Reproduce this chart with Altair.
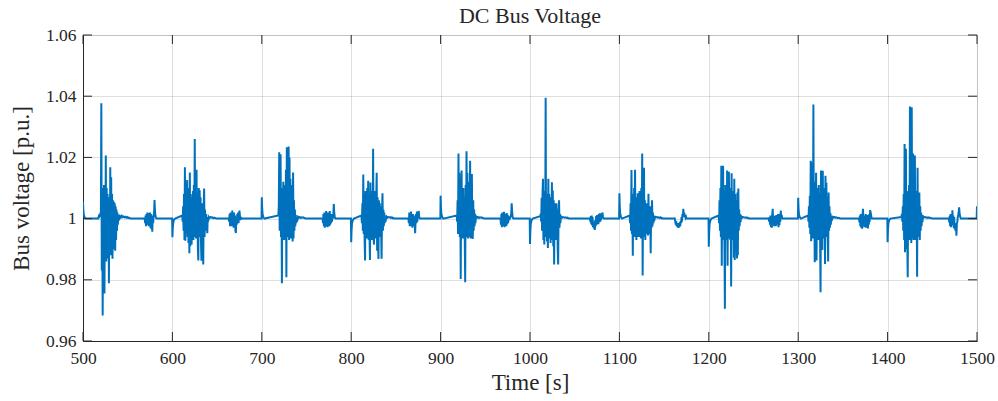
import altair as alt
import pandas as pd

# ---------------- values ----------------
chart_title = "DC Bus Voltage"
x_ticks = [500, 600, 700, 800, 900, 1000, 1100, 1200, 1300, 1400, 1500]
y_ticks = [0.96, 0.98, 1.0, 1.02, 1.04, 1.06]

# large oscillation bursts, sampled every 0.5 s from their start time
burst_starts = [517.0, 611.0, 718.5, 811.5, 918.0, 1011.5, 1111.5, 1211.0, 1311.0, 1415.5]

burst_1 = [1.0000, 1.0006, 1.0010, 1.0008, 1.0012, 1.0009,
           1.0010, 1.0377, 0.9830, 1.0100, 0.9683, 1.0050, 0.9850, 1.0110, 0.9755, 1.0080,
           0.9880, 1.0206, 0.9860, 1.0100, 0.9870, 1.0080, 0.9900, 1.0060, 0.9789, 1.0070,
           0.9880, 1.0168, 0.9900, 1.0135, 0.9880, 1.0080, 0.9869, 1.0060, 0.9900, 1.0055,
           0.9920, 1.0050, 0.9895, 1.0040, 0.9930, 1.0030, 0.9960, 1.0020, 0.9980, 1.0012,
           0.9995, 1.0008, 1.0003]
burst_2 = [1.0010, 0.9990, 1.0040, 0.9960, 1.0080, 0.9930, 1.0168, 0.9928, 1.0060, 0.9950,
           1.0090, 1.0126, 0.9940, 1.0070, 0.9920, 1.0100, 0.9887, 1.0151, 0.9910, 1.0080,
           0.9930, 0.9915, 1.0070, 0.9940, 1.0090, 0.9930, 1.0110, 0.9950, 1.0260, 0.9940,
           1.0090, 0.9935, 1.0160, 0.9940, 1.0080, 0.9900, 0.9863, 1.0100, 0.9940, 1.0093,
           0.9950, 1.0070, 0.9920, 0.9862, 1.0050, 0.9960, 1.0030, 0.9850, 1.0040, 1.0098,
           0.9940, 1.0030, 0.9960, 1.0015, 0.9975, 1.0005, 0.9952, 1.0005, 0.9990]
burst_3 = [1.0010, 1.0040, 1.0217, 0.9960, 1.0150, 1.0210, 0.9940, 1.0080, 0.9789, 1.0100,
           0.9930, 1.0120, 0.9940, 1.0090, 0.9930, 1.0110, 0.9950, 1.0160, 0.9808, 1.0233,
           0.9940, 1.0210, 0.9950, 1.0236, 0.9930, 1.0200, 0.9945, 1.0130, 0.9935, 1.0110,
           0.9950, 1.0090, 0.9925, 1.0151, 0.9935, 1.0060, 0.9960, 1.0030, 0.9975, 1.0012,
           0.9985, 1.0005]
burst_4 = [1.0010, 0.9985, 1.0050, 0.9960, 1.0144, 0.9950, 1.0080, 0.9930, 0.9863, 1.0090,
           0.9940, 1.0070, 0.9935, 1.0100, 0.9950, 1.0124, 0.9930, 1.0080, 0.9940, 0.9865,
           1.0118, 0.9945, 1.0060, 0.9930, 1.0090, 0.9950, 1.0228, 0.9940, 0.9915, 1.0080,
           0.9940, 1.0090, 0.9935, 1.0060, 1.0150, 0.9895, 1.0070, 0.9930, 0.9868, 1.0060,
           0.9950, 1.0050, 0.9940, 1.0040, 0.9960, 0.9869, 1.0030, 1.0083, 0.9960, 1.0030,
           0.9975, 1.0020, 0.9985, 1.0010, 0.9990, 1.0005]
burst_5 = [1.0010, 0.9990, 1.0060, 0.9950, 1.0213, 0.9960, 1.0150, 0.9940, 1.0100, 0.9803,
           1.0080, 1.0157, 0.9940, 1.0090, 0.9935, 1.0100, 0.9950, 1.0070, 0.9940, 0.9792,
           1.0110, 0.9945, 1.0220, 0.9940, 1.0150, 0.9935, 1.0120, 0.9945, 1.0100, 0.9940,
           1.0189, 0.9935, 1.0110, 0.9950, 1.0146, 0.9940, 0.9934, 1.0060, 0.9960, 1.0030,
           0.9975, 1.0015, 0.9985, 1.0008]
burst_6 = [1.0008, 1.0015, 0.9990, 1.0068, 0.9960, 1.0080, 1.0130, 0.9930, 1.0070, 0.9915,
           1.0090, 0.9950, 1.0395, 0.9940, 1.0080, 0.9925, 1.0070, 0.9904, 1.0130, 0.9940,
           1.0080, 0.9935, 1.0060, 0.9920, 1.0070, 0.9960, 1.0119, 0.9930, 1.0092, 0.9910,
           1.0060, 0.9850, 1.0050, 0.9940, 1.0040, 0.9930, 1.0050, 0.9950, 1.0030, 0.9900,
           0.9850, 1.0030, 1.0060, 0.9970, 1.0015, 0.9985, 1.0008]
burst_7 = [1.0010, 0.9985, 1.0050, 0.9960, 1.0159, 0.9950, 1.0060, 0.9879, 1.0080, 0.9950,
           1.0100, 0.9940, 1.0160, 0.9945, 1.0070, 0.9930, 1.0060, 0.9950, 1.0083, 0.9940,
           1.0070, 0.9950, 1.0090, 0.9940, 1.0060, 0.9935, 1.0100, 0.9950, 1.0213, 0.9814,
           1.0070, 0.9940, 1.0166, 0.9950, 1.0060, 0.9930, 1.0050, 0.9950, 1.0040, 0.9960,
           1.0050, 0.9945, 1.0081, 0.9960, 1.0040, 0.9950, 1.0030, 0.9887, 1.0040, 0.9970,
           1.0060, 0.9975, 1.0020, 0.9985, 1.0010, 0.9992, 1.0005]
burst_8 = [1.0010, 0.9985, 1.0060, 0.9960, 1.0100, 0.9940, 1.0173, 0.9846, 1.0120, 0.9930,
           1.0173, 0.9940, 1.0090, 0.9920, 0.9705, 1.0110, 0.9930, 1.0090, 0.9940, 1.0157,
           0.9846, 1.0100, 0.9935, 1.0153, 0.9940, 1.0080, 0.9930, 1.0100, 0.9778, 1.0148,
           0.9940, 1.0090, 0.9930, 1.0070, 0.9872, 1.0130, 0.9865, 1.0080, 0.9945, 1.0060,
           0.9935, 0.9870, 1.0085, 0.9880, 1.0098, 0.9960, 1.0030, 0.9975, 1.0015, 0.9988,
           1.0005]
burst_9 = [1.0010, 0.9990, 1.0040, 0.9970, 1.0075, 0.9950, 1.0189, 0.9926, 1.0184, 0.9940,
           1.0090, 0.9935, 1.0373, 0.9940, 1.0100, 0.9857, 1.0120, 0.9940, 1.0150, 0.9863,
           1.0100, 0.9940, 1.0090, 0.9930, 1.0110, 0.9945, 1.0080, 0.9930, 0.9759, 1.0157,
           0.9940, 1.0090, 0.9897, 1.0156, 0.9940, 1.0080, 0.9935, 1.0100, 0.9852, 1.0140,
           0.9950, 1.0117, 0.9940, 1.0070, 0.9945, 0.9860, 1.0085, 0.9960, 1.0040, 0.9970,
           1.0018, 0.9980, 1.0010, 0.9992, 1.0005]
burst_10 = [1.0005, 1.0015, 0.9990, 1.0040, 0.9960, 1.0080, 0.9930, 1.0244, 0.9890, 1.0120,
            1.0228, 0.9900, 1.0080, 0.9935, 0.9808, 1.0090, 0.9940, 1.0110, 0.9930, 1.0366,
            0.9945, 1.0120, 0.9920, 1.0364, 0.9935, 1.0090, 1.0213, 0.9930, 1.0100, 0.9945,
            1.0206, 0.9930, 1.0090, 0.9940, 1.0070, 0.9810, 1.0166, 0.9950, 1.0060, 0.9940,
            1.0085, 0.9930, 1.0040, 0.9960, 1.0020, 0.9975, 1.0012, 0.9988, 1.0005]

# small settling noise after each burst, one value per second
tail_1 = [1.0008, 1.0004, 1.0009, 1.0005, 1.0007, 1.0004, 1.0006, 1.0003, 1.0005, 1.0002, 1.0003, 1.0001, 1.0000]
tail_2 = [1.0006, 1.0002, 1.0005, 1.0003, 1.0004, 1.0001, 1.0003, 1.0002, 1.0001, 1.0000]
tail_3 = [0.9990, 1.0006, 1.0003, 1.0005, 1.0002, 1.0004, 1.0003, 1.0004, 1.0002, 1.0001, 1.0000]
tail_4 = [1.0007, 1.0003, 1.0005, 1.0004, 1.0005, 1.0002, 1.0004, 1.0001, 1.0002, 1.0000]
tail_5 = [1.0006, 1.0003, 1.0005, 1.0002, 1.0004, 1.0003, 1.0004, 1.0002, 1.0001, 1.0000]
tail_6 = [1.0006, 1.0003, 1.0005, 1.0004, 1.0003, 1.0004, 1.0002, 1.0003, 1.0001, 1.0000]
tail_7 = [1.0006, 1.0004, 1.0005, 1.0003, 1.0004, 1.0002, 1.0004, 1.0001, 1.0002, 1.0000]
tail_8 = [1.0007, 1.0003, 1.0005, 1.0004, 1.0003, 1.0004, 1.0002, 1.0003, 1.0001, 1.0000]
tail_9 = [1.0006, 1.0003, 1.0005, 1.0003, 1.0004, 1.0002, 1.0003, 1.0002, 1.0001, 1.0000]
tail_10 = [1.0007, 1.0004, 1.0005, 1.0003, 1.0004, 1.0002, 1.0004, 1.0003, 1.0002, 1.0001, 1.0000]

# small bursts between the large ones, sampled every 0.5 s
small_starts = [569.0, 663.0, 768.0, 864.0, 967.0, 1067.0, 1162.0, 1267.0, 1368.0, 1468.5]
small_1 = [1.0000, 0.9985, 1.0010, 0.9975, 1.0015, 0.9980, 1.0020, 0.9985, 1.0010, 0.9975,
           1.0018, 0.9980, 1.0020, 0.9970, 1.0015, 0.9965, 1.0010, 0.9957, 1.0005, 0.9985,
           1.0010, 1.0020, 1.0061, 1.0025, 1.0010, 1.0004, 1.0001, 1.0000]
small_2 = [1.0000, 0.9990, 1.0015, 0.9975, 1.0020, 0.9980, 1.0010, 0.9975, 1.0026, 0.9980,
           1.0015, 0.9970, 1.0020, 0.9975, 1.0010, 0.9960, 0.9953, 1.0005, 0.9980, 1.0015,
           0.9985, 1.0020, 0.9985, 1.0015, 1.0026, 1.0010, 0.9995, 1.0005, 1.0000]
small_3 = [1.0000, 0.9985, 1.0015, 0.9975, 1.0020, 0.9970, 1.0010, 0.9975, 1.0025, 0.9980,
           1.0015, 0.9972, 1.0020, 0.9978, 1.0012, 0.9975, 1.0025, 0.9980, 1.0010, 0.9985,
           1.0015, 0.9990, 1.0005, 1.0000, 1.0008, 1.0048, 1.0020, 1.0008, 1.0002, 1.0000]
small_4 = [1.0000, 0.9985, 1.0020, 0.9975, 1.0015, 0.9980, 1.0023, 0.9975, 1.0010, 0.9970,
           1.0015, 0.9980, 1.0010, 0.9975, 1.0005, 0.9952, 0.9990, 1.0015, 0.9985, 1.0023,
           0.9990, 1.0018, 1.0005, 1.0025, 1.0008, 1.0002, 1.0000]
small_5 = [1.0000, 0.9980, 1.0015, 0.9972, 1.0020, 0.9975, 1.0010, 0.9980, 1.0022, 0.9972,
           1.0015, 0.9978, 1.0010, 0.9975, 1.0018, 0.9982, 1.0012, 0.9985, 1.0005, 0.9995,
           1.0002, 1.0000, 1.0003, 1.0008, 1.0015, 1.0050, 1.0022, 1.0008, 1.0002, 1.0000]
small_6 = [1.0000, 0.9990, 1.0008, 0.9982, 1.0010, 0.9978, 1.0005, 0.9972, 0.9990, 0.9968,
           0.9985, 0.9963, 0.9995, 0.9975, 1.0008, 0.9980, 1.0012, 0.9985, 1.0010, 0.9982,
           1.0015, 0.9988, 1.0017, 0.9990, 1.0012, 0.9995, 1.0017, 1.0005, 1.0020, 1.0008,
           1.0002, 1.0000]
small_7 = [1.0000, 0.9990, 0.9980, 0.9992, 0.9975, 0.9985, 0.9972, 0.9985, 0.9970, 0.9982,
           0.9972, 0.9988, 0.9975, 0.9992, 0.9985, 1.0005, 0.9990, 1.0015, 1.0005, 1.0032,
           1.0010, 1.0020, 1.0005, 1.0012, 1.0003, 1.0006, 1.0001, 1.0000]
small_8 = [1.0000, 0.9990, 1.0005, 0.9980, 1.0010, 0.9972, 1.0008, 0.9970, 1.0015, 1.0032,
           0.9985, 1.0010, 0.9975, 1.0005, 0.9978, 1.0008, 0.9975, 1.0012, 0.9980, 1.0010,
           0.9985, 1.0015, 0.9972, 1.0010, 0.9978, 1.0015, 0.9990, 1.0026, 1.0005, 1.0012,
           1.0003, 1.0000]
small_9 = [1.0000, 0.9988, 1.0010, 0.9975, 1.0015, 0.9970, 1.0008, 0.9967, 1.0012, 1.0032,
           0.9980, 1.0010, 0.9972, 1.0008, 0.9975, 1.0015, 0.9970, 1.0010, 0.9975, 1.0012,
           0.9968, 1.0008, 0.9980, 1.0015, 0.9990, 1.0028, 1.0008, 1.0012, 1.0003, 1.0000]
small_10 = [1.0000, 0.9988, 1.0010, 0.9975, 1.0015, 0.9972, 1.0012, 0.9978, 1.0027, 0.9980,
            1.0010, 0.9970, 1.0005, 0.9965, 0.9985, 0.9960, 0.9975, 0.9944, 0.9985, 0.9990,
            1.0005, 1.0012, 1.0020, 1.0037, 1.0018, 1.0008, 1.0003, 1.0000]

# short transients at every hundred seconds
spike_centers = [600, 700, 800, 900, 1000, 1100, 1200, 1300, 1400]
spike_offsets = [-0.3, 0.0, 0.4, 0.9, 1.8, 3.0]
spike_600 = [1.0, 0.9939, 0.9968, 0.9986, 0.9996, 1.0]
spike_700 = [1.0, 1.0070, 1.0034, 1.0014, 1.0004, 1.0]
spike_800 = [1.0, 0.9923, 0.9962, 0.9984, 0.9995, 1.0]
spike_900 = [1.0, 1.0075, 1.0036, 1.0015, 1.0005, 1.0]
spike_1000 = [1.0, 0.9917, 0.9960, 0.9983, 0.9995, 1.0]
spike_1100 = [1.0, 1.0083, 1.0040, 1.0016, 1.0005, 1.0]
spike_1200 = [1.0, 0.9908, 0.9956, 0.9982, 0.9994, 1.0]
spike_1300 = [1.0, 1.0068, 1.0033, 1.0013, 1.0004, 1.0]
spike_1400 = [1.0, 0.9923, 0.9962, 0.9984, 0.9995, 1.0]
start_t = [500.0, 500.4, 500.9, 501.8, 503.0]
start_v = [1.0055, 1.0028, 1.0012, 1.0004, 1.0000]
end_t = [1499.6, 1500.0]
end_v = [1.0, 1.0040]

# ---------------- assemble the series ----------------
bursts = [burst_1, burst_2, burst_3, burst_4, burst_5, burst_6, burst_7, burst_8, burst_9, burst_10]
tails = [tail_1, tail_2, tail_3, tail_4, tail_5, tail_6, tail_7, tail_8, tail_9, tail_10]
smalls = [small_1, small_2, small_3, small_4, small_5, small_6, small_7, small_8, small_9, small_10]
spikes = [spike_600, spike_700, spike_800, spike_900, spike_1000, spike_1100, spike_1200, spike_1300, spike_1400]

rows = list(zip(start_t, start_v)) + list(zip(end_t, end_v))
for s, vals, tail in zip(burst_starts, bursts, tails):
    for i, v in enumerate(vals):
        rows.append((s + 0.5 * i, v))
    tail_start = s + 0.5 * len(vals)
    for i, v in enumerate(tail):
        rows.append((tail_start + 1.0 * i, v))
for s, vals in zip(small_starts, smalls):
    for i, v in enumerate(vals):
        rows.append((s + 0.5 * i, v))
for c, vals in zip(spike_centers, spikes):
    for o, v in zip(spike_offsets, vals):
        rows.append((c + o, v))

df = pd.DataFrame(rows, columns=["t", "v"]).sort_values("t").reset_index(drop=True)
xt = pd.DataFrame({"t": x_ticks})
yt = pd.DataFrame({"v": y_ticks})
tt = pd.DataFrame({"label": [chart_title]})

W, H = 894, 306
FONT = "Liberation Serif"
INK = "#262626"
TL = 9

xscale = alt.Scale(domain=[500, 1500], nice=False, zero=False, padding=0)
yscale = alt.Scale(domain=[0.96, 1.06], nice=False, zero=False, padding=0)

x_axis = alt.Axis(values=x_ticks, format="d", title="Time [s]", grid=True,
                  gridColor=INK, gridOpacity=0.15, ticks=False, labelFlush=False,
                  domainColor=INK, labelFont=FONT, labelFontSize=17.5,
                  labelColor=INK, labelPadding=8, titleFont=FONT,
                  titleFontSize=23, titleFontWeight="normal", titleColor=INK,
                  titlePadding=5)
y_axis = alt.Axis(values=y_ticks, title="Bus voltage [p.u.]", grid=True,
                  labelExpr="datum.value == 1 ? '1' : format(datum.value, '.2f')",
                  gridColor=INK, gridOpacity=0.15, ticks=False, labelFlush=False,
                  domainColor=INK, labelFont=FONT, labelFontSize=17.5,
                  labelColor=INK, labelPadding=7, titleFont=FONT,
                  titleFontSize=23, titleFontWeight="normal", titleColor=INK,
                  titlePadding=12)

line = alt.Chart(df).mark_line(color="#0072BD", strokeWidth=2, clip=True).encode(
    x=alt.X("t:Q", scale=xscale, axis=x_axis),
    y=alt.Y("v:Q", scale=yscale, axis=y_axis),
)

tick_bottom = alt.Chart(xt).mark_rule(color=INK, strokeWidth=1).encode(
    x=alt.X("t:Q", scale=xscale, axis=x_axis), y=alt.value(H), y2=alt.value(H - TL))
tick_top = alt.Chart(xt).mark_rule(color=INK, strokeWidth=1).encode(
    x=alt.X("t:Q", scale=xscale, axis=x_axis), y=alt.value(0), y2=alt.value(TL))
tick_left = alt.Chart(yt).mark_rule(color=INK, strokeWidth=1).encode(
    y=alt.Y("v:Q", scale=yscale, axis=y_axis), x=alt.value(0), x2=alt.value(TL))
tick_right = alt.Chart(yt).mark_rule(color=INK, strokeWidth=1).encode(
    y=alt.Y("v:Q", scale=yscale, axis=y_axis), x=alt.value(W), x2=alt.value(W - TL))

title_text = alt.Chart(tt).mark_text(
    font=FONT, fontSize=22, color=INK, align="center", baseline="alphabetic"
).encode(text="label:N", x=alt.value(W / 2), y=alt.value(-12))

chart = alt.layer(line, tick_bottom, tick_top, tick_left, tick_right, title_text).properties(
    width=W, height=H,
    autosize=alt.AutoSizeParams(type="none"),
    padding={"left": 83, "top": 35, "right": 21, "bottom": 60},
).configure_view(stroke=INK, strokeWidth=1).configure_axis(
    labelFont=FONT, titleFont=FONT).configure(background="white")

chart.save("out.html", embed_options={"renderer": "svg", "actions": False})
